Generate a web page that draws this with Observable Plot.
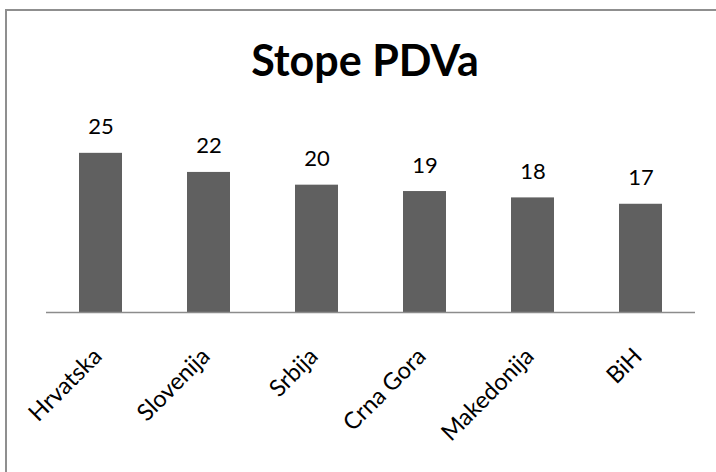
<!DOCTYPE html>
<html>
<head>
<meta charset="utf-8">
<script src="https://cdn.jsdelivr.net/npm/d3@7"></script>
<script src="https://cdn.jsdelivr.net/npm/@observablehq/plot@0.6"></script>
<style>
  html, body { margin: 0; padding: 0; background: #fff; }
  #wrap { position: relative; width: 716px; height: 472px; overflow: hidden; }
  #border { position: absolute; left: 5px; top: 9px; right: -10px; bottom: -10px; border-left: 2px solid #8f8f8f; border-top: 2px solid #8f8f8f; }
  #title { position: absolute; left: 0; top: 0; width: 716px; text-align: center; font-family: Lato, sans-serif; font-weight: bold; font-size: 43px; line-height: 1; padding-top: 38px; padding-left: 14px; box-sizing: border-box; color: #000; }
  #chart { position: absolute; left: 0; top: 0; }
</style>
</head>
<body>
<div id="wrap">
  <div id="border"></div>
  <div id="title">Stope PDVa</div>
  <div id="chart"></div>
</div>
<script>
const countries = ["Hrvatska", "Slovenija", "Srbija", "Crna Gora", "Makedonija", "BiH"];
const rates = [25, 22, 20, 19, 18, 17];

const data = countries.map((c, i) => ({country: c, rate: rates[i]}));

const chart = Plot.plot({
  width: 716,
  height: 472,
  marginLeft: 46,
  marginRight: 21,
  marginTop: 121,
  marginBottom: 160,
  style: {background: "transparent", fontFamily: "Lato, sans-serif"},
  x: {domain: countries, paddingInner: 0.6, paddingOuter: 0.3, axis: null},
  y: {domain: [0, 30], axis: null},
  marks: [
    Plot.barY(data, {x: "country", y: "rate", fill: "#606060"}),
    Plot.ruleY([0], {stroke: "#8c8c8c", strokeWidth: 1.5}),
    Plot.text(data, {x: "country", y: "rate", text: d => String(d.rate), dy: -19, lineAnchor: "bottom", fontSize: 22, fill: "#000"}),
    Plot.axisX({tickSize: 0, tickRotate: -45, tickPadding: 0, fontSize: 23.5, dy: 40, dx: -3, fill: "#000", textAnchor: "end", label: null})
  ]
});
document.getElementById("chart").appendChild(chart);
</script>
</body>
</html>
